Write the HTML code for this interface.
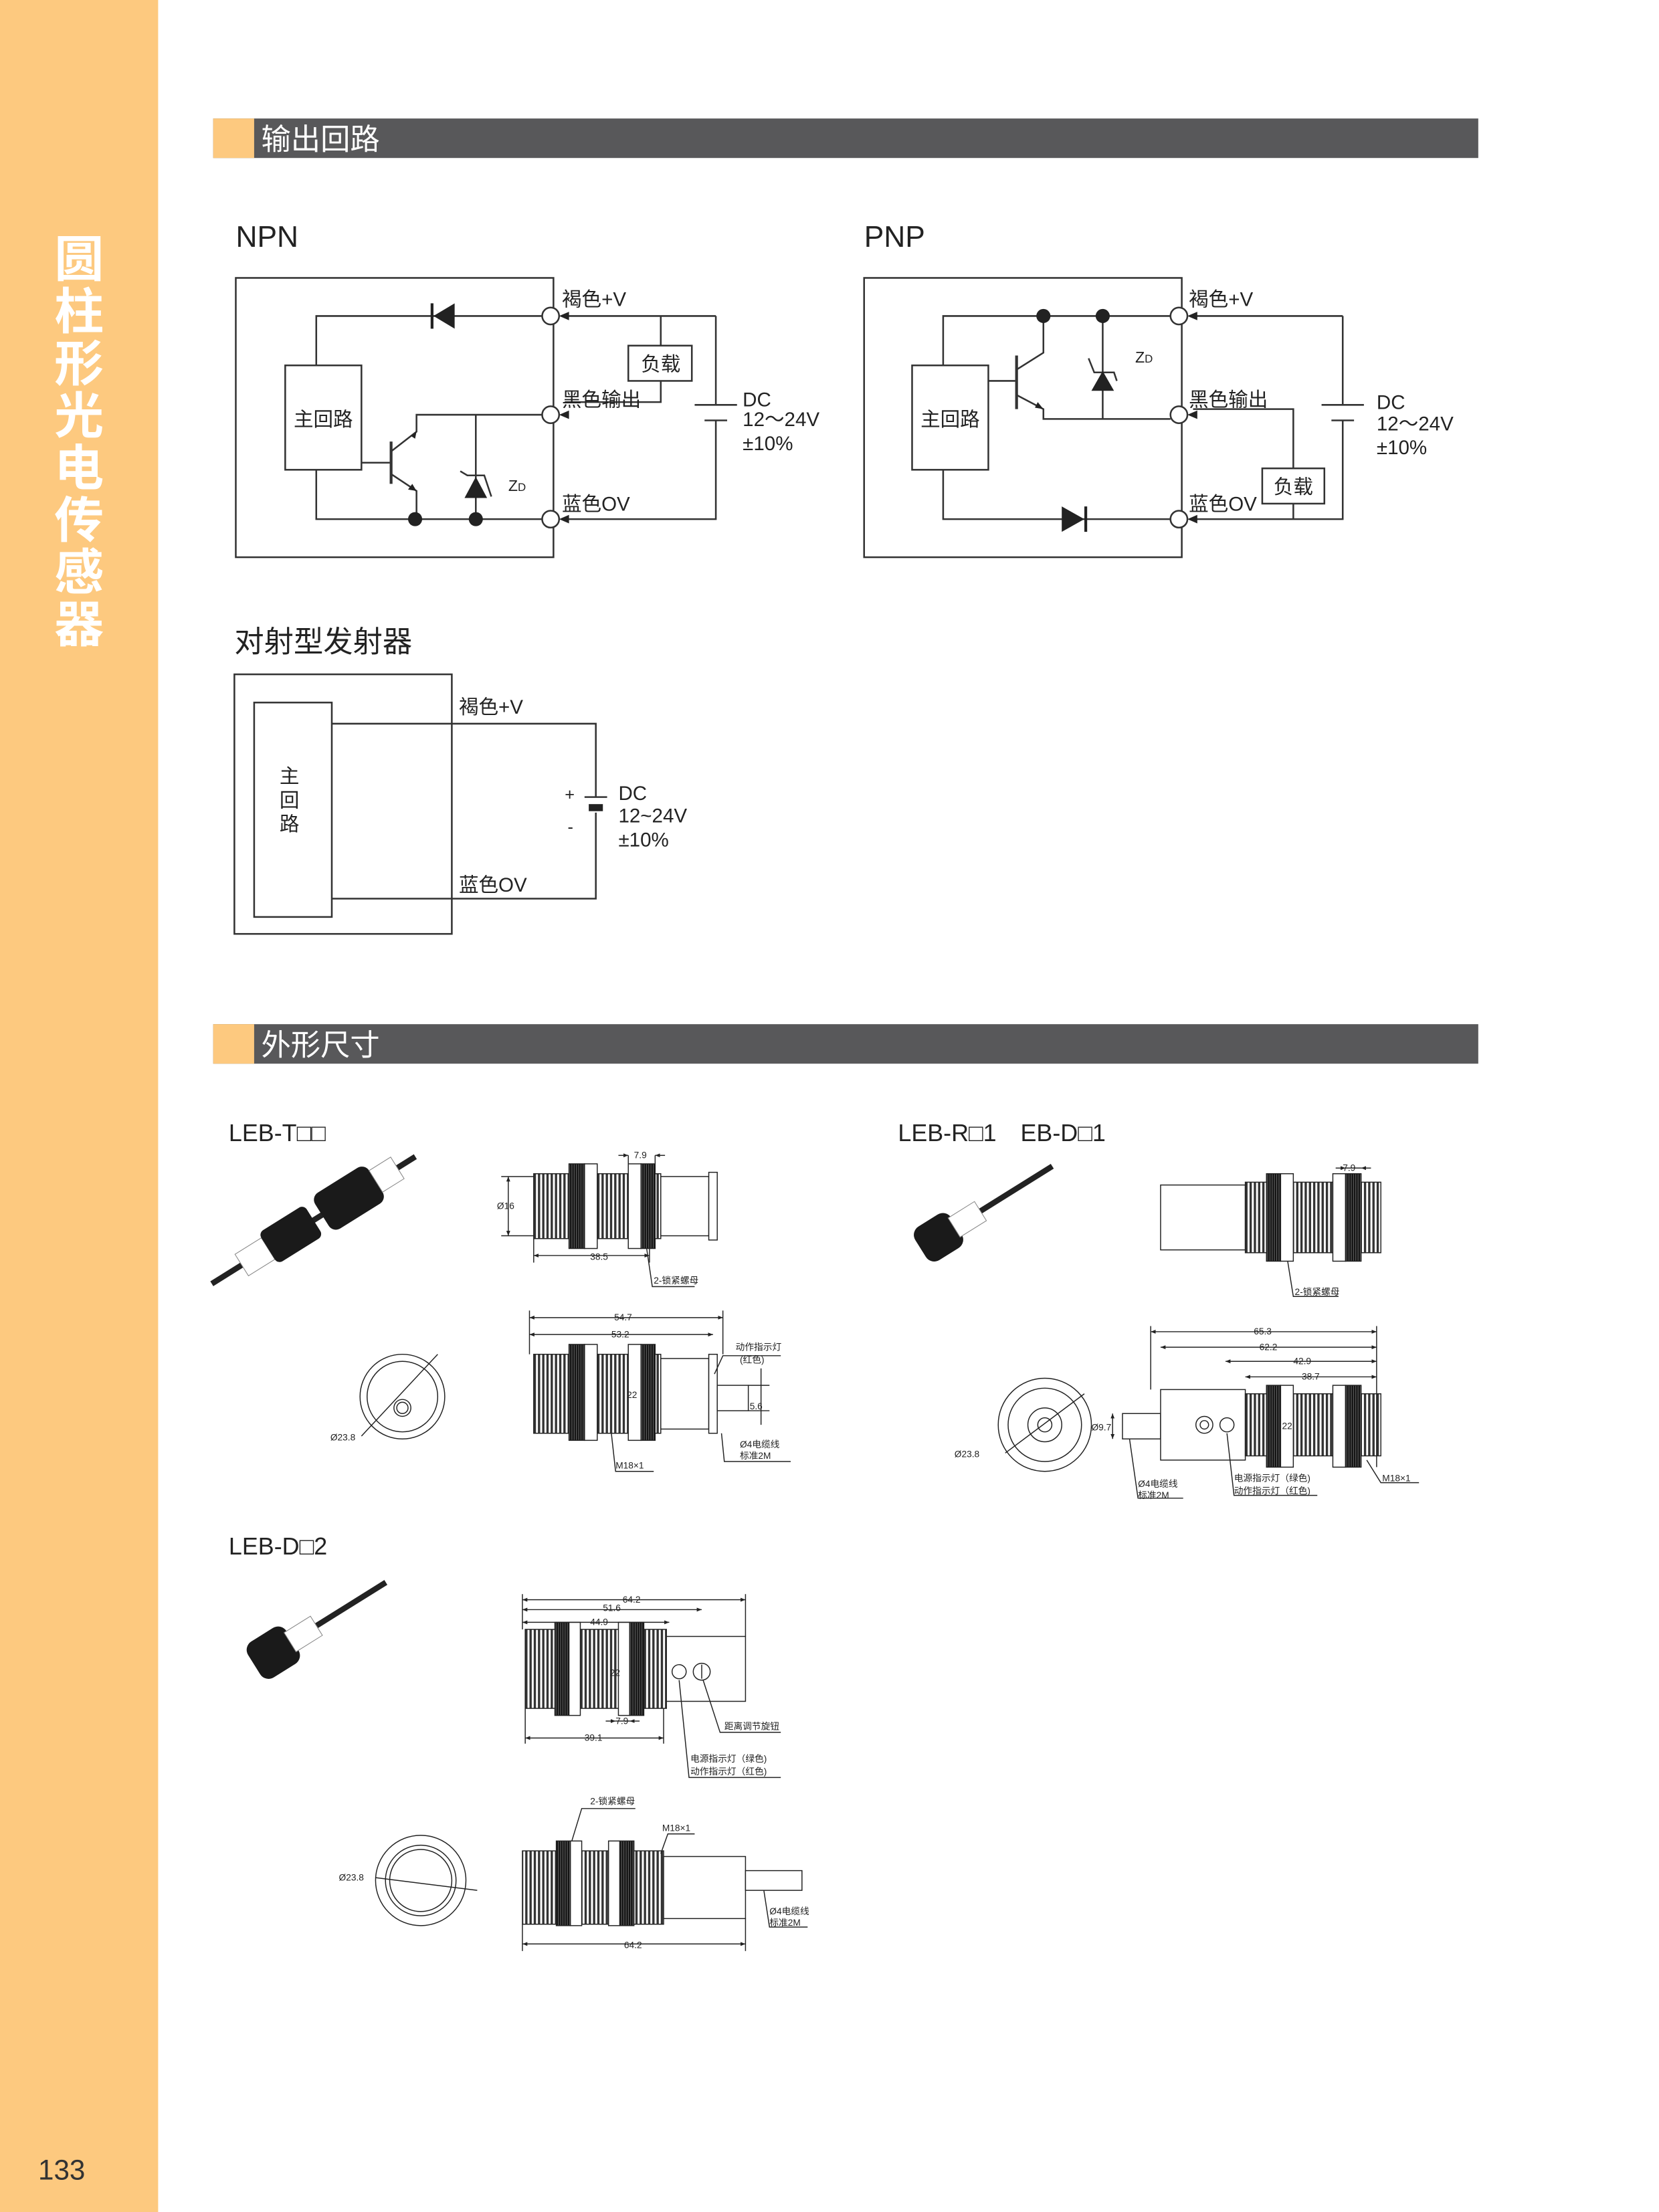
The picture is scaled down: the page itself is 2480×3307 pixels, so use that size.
<!DOCTYPE html>
<html><head><meta charset="utf-8"><style>
html,body{margin:0;padding:0;background:#fff}
svg{display:block}
text{font-family:"Liberation Sans","Noto Sans CJK SC",sans-serif}
</style></head><body>
<svg width="2480" height="3307" viewBox="0 0 1175 1568" preserveAspectRatio="none" xmlns="http://www.w3.org/2000/svg">
<defs>
<pattern id="th" width="3" height="20" patternUnits="userSpaceOnUse"><rect width="3" height="20" fill="#fff"/><rect x="0" width="1.6" height="20" fill="#333"/></pattern>
<pattern id="nt" width="1.6" height="20" patternUnits="userSpaceOnUse"><rect width="1.6" height="20" fill="#111"/><rect x="0" width="0.5" height="20" fill="#666"/></pattern>
<marker id="ar" viewBox="0 0 10 10" refX="10" refY="5" markerWidth="5" markerHeight="5" orient="auto-start-reverse"><path d="M0,1L10,5L0,9z" fill="#222"/></marker>
</defs>
<!-- sidebar -->
<rect x="0" y="0" width="112" height="1568" fill="#fdc97f"/>
<g fill="#fff" font-size="35" font-weight="bold" text-anchor="middle">
<text x="56" y="196">圆</text><text x="56" y="233">柱</text><text x="56" y="270">形</text><text x="56" y="307">光</text><text x="56" y="344">电</text><text x="56" y="381">传</text><text x="56" y="418">感</text><text x="56" y="455">器</text>
</g>
<text x="27" y="1545" font-size="20" fill="#333">133</text>
<!-- headers -->
<rect x="151" y="84" width="896" height="28" fill="#58585a"/><rect x="151" y="84" width="29" height="28" fill="#fdc97f"/>
<text x="185" y="106" font-size="21" fill="#fff">输出回路</text>
<rect x="151" y="726" width="896" height="28" fill="#58585a"/><rect x="151" y="726" width="29" height="28" fill="#fdc97f"/>
<text x="185" y="748" font-size="21" fill="#fff">外形尺寸</text>

<g stroke="#333" stroke-width="1.2" fill="none">
<!-- NPN -->
<rect x="167" y="197" width="225" height="198"/>
<polyline points="224,259 224,224 384,224"/>
<polyline points="224,333 224,368 384,368"/>
<rect x="202" y="259" width="54" height="74" fill="#fff"/>
<line x1="256" y1="328" x2="276" y2="328"/>
<line x1="277" y1="313" x2="277" y2="343" stroke-width="2"/>
<polyline points="277,320 295,306 295,294 384,294"/>
<polyline points="277,336 295,348 295,368"/>
<line x1="337" y1="294" x2="337" y2="368"/>
<polyline points="326,334 331,337 343,337 348,352"/>
<line x1="400" y1="224" x2="507" y2="224"/>
<polyline points="507,224 507,287"/><polyline points="507,298 507,368 400,368"/>
<line x1="492" y1="287" x2="522" y2="287"/><line x1="499" y1="298" x2="515" y2="298"/>
<polyline points="468,224 468,245"/>
<rect x="445" y="245" width="45" height="25"/>
<polyline points="468,270 468,285 400,285"/>
<!-- PNP -->
<rect x="612" y="197" width="225" height="198"/>
<polyline points="668,259 668,224 829,224"/>
<polyline points="668,333 668,368 829,368"/>
<rect x="646" y="259" width="54" height="74" fill="#fff"/>
<line x1="700" y1="270" x2="719" y2="270"/>
<line x1="720" y1="252" x2="720" y2="290" stroke-width="2"/>
<polyline points="720,262 739,250 739,224"/>
<polyline points="720,280 739,290 739,297 829,297"/>
<line x1="781" y1="224" x2="781" y2="297"/>
<polyline points="771,254 775,264 789,264 791,270"/>
<line x1="845" y1="224" x2="951" y2="224"/>
<polyline points="951,224 951,287"/><polyline points="951,298 951,368 845,368"/>
<line x1="936" y1="287" x2="966" y2="287"/><line x1="943" y1="298" x2="959" y2="298"/>
<polyline points="845,290 916,290 916,332"/>
<rect x="894" y="332" width="44" height="25"/>
<line x1="916" y1="357" x2="916" y2="368"/>
<!-- emitter -->
<rect x="166" y="478" width="154" height="184"/>
<rect x="180" y="498" width="55" height="152"/>
<polyline points="235,513 422,513 422,565"/>
<polyline points="422,576 422,637 235,637"/>
<line x1="414" y1="565" x2="430" y2="565"/>
</g>
<!-- circles & dots & diodes -->
<g stroke="#333" stroke-width="1.2" fill="#fff">
<circle cx="390" cy="224" r="6"/><circle cx="390" cy="294" r="6"/><circle cx="390" cy="368" r="6"/>
<circle cx="835" cy="224" r="6"/><circle cx="835" cy="294" r="6"/><circle cx="835" cy="368" r="6"/>
</g>
<g fill="#222">
<path d="M307,224 L322,215 L322,233z"/><rect x="305" y="215" width="2" height="18"/>
<path d="M337,338 L329,353 L345,353z"/>
<circle cx="294" cy="368" r="5"/><circle cx="337" cy="368" r="5"/>
<path d="M768,368 L752,359 L752,377z"/><rect x="768" y="359" width="2" height="18"/>
<path d="M781,263 L773,277 L789,277z"/>
<circle cx="739" cy="224" r="5"/><circle cx="781" cy="224" r="5"/>
<path d="M291,309 l4,-3 l-1,5z"/><path d="M295,348 l-6,-1 l3,-4z"/>
<path d="M739,290 l-6,-1 l2,-4z"/>
<path d="M396,224 l7,-3 v6z"/><path d="M396,294 l7,-3 v6z"/><path d="M396,368 l7,-3 v6z"/>
<path d="M841,224 l7,-3 v6z"/><path d="M841,294 l7,-3 v6z"/><path d="M841,368 l7,-3 v6z"/>
<rect x="417" y="570" width="10" height="5"/>
</g>
<g fill="#222" font-size="14">
<text x="167" y="175" font-size="21">NPN</text>
<text x="612" y="175" font-size="21">PNP</text>
<text x="208" y="302">主回路</text><text x="652" y="302">主回路</text>
<text x="398" y="217">褐色+V</text><text x="398" y="288">黑色输出</text><text x="398" y="362">蓝色OV</text>
<text x="842" y="217">褐色+V</text><text x="842" y="288">黑色输出</text><text x="842" y="362">蓝色OV</text>
<text x="454" y="263">负载</text><text x="902" y="350">负载</text>
<text x="526" y="288">DC</text><text x="526" y="302">12～24V</text><text x="526" y="319">±10%</text>
<text x="975" y="290">DC</text><text x="975" y="305">12～24V</text><text x="975" y="322">±10%</text>
<text x="360" y="348" font-size="11">Z<tspan font-size="8">D</tspan></text>
<text x="804" y="257" font-size="11">Z<tspan font-size="8">D</tspan></text>
<text x="166" y="462" font-size="21">对射型发射器</text>
<text x="198" y="555">主</text><text x="198" y="572">回</text><text x="198" y="589">路</text>
<text x="325" y="506">褐色+V</text><text x="325" y="632">蓝色OV</text>
<text x="400" y="567" font-size="12">+</text><text x="402" y="590" font-size="12">-</text>
<text x="438" y="567">DC</text><text x="438" y="583">12~24V</text><text x="438" y="600">±10%</text>
<text x="162" y="809" font-size="17">LEB-T□□</text>
<text x="636" y="809" font-size="17">LEB-R□1　EB-D□1</text>
<text x="162" y="1102" font-size="17">LEB-D□2</text>
</g>

<!-- product photos (simplified) -->
<g>
<g transform="translate(150,910) rotate(-32)">
<rect x="0" y="-2" width="170" height="4" fill="#222"/>
<rect x="25" y="-9" width="22" height="18" fill="#fff" stroke="#888" stroke-width="0.5"/>
<rect x="47" y="-13" width="38" height="26" rx="4" fill="#1a1a1a"/>
<rect x="92" y="-15" width="45" height="30" rx="6" fill="#1a1a1a"/>
<rect x="137" y="-9" width="18" height="18" fill="#fff" stroke="#888" stroke-width="0.5"/>
</g>
<g transform="translate(652,885) rotate(-32)">
<rect x="10" y="-2" width="100" height="4" fill="#222"/>
<rect x="0" y="-14" width="30" height="28" rx="7" fill="#1a1a1a"/>
<rect x="28" y="-8" width="22" height="16" fill="#fff" stroke="#888" stroke-width="0.5"/>
</g>
<g transform="translate(180,1180) rotate(-32)">
<rect x="10" y="-2" width="100" height="4" fill="#222"/>
<rect x="0" y="-15" width="32" height="30" rx="7" fill="#1a1a1a"/>
<rect x="30" y="-8" width="22" height="16" fill="#fff" stroke="#888" stroke-width="0.5"/>
</g>
</g>

<g stroke="#222" stroke-width="0.7" fill="none">
<!-- LEB-T top -->
<rect x="378" y="832" width="90" height="46" fill="url(#th)"/>
<rect x="468" y="834" width="34" height="42" fill="#fff"/>
<rect x="502" y="831" width="6" height="48" fill="#fff"/>
<rect x="403" y="825" width="11" height="60" fill="url(#nt)"/><rect x="414" y="825" width="9" height="60" fill="#fff"/>
<rect x="445" y="825" width="9" height="60" fill="#fff"/><rect x="454" y="825" width="10" height="60" fill="url(#nt)"/>
<line x1="445" y1="819" x2="445" y2="825"/><line x1="464" y1="819" x2="464" y2="825"/>
<line x1="438" y1="819" x2="445" y2="819" marker-end="url(#ar)"/><line x1="471" y1="819" x2="464" y2="819" marker-end="url(#ar)"/>
<line x1="360" y1="834" x2="360" y2="876" marker-start="url(#ar)" marker-end="url(#ar)"/>
<line x1="355" y1="834" x2="378" y2="834"/><line x1="355" y1="876" x2="378" y2="876"/>
<line x1="378" y1="878" x2="378" y2="895"/><line x1="460" y1="878" x2="460" y2="895"/>
<line x1="378" y1="890" x2="460" y2="890" marker-start="url(#ar)" marker-end="url(#ar)"/>
<polyline points="458,885 462,912 492,912"/>
<!-- LEB-T end view -->
<circle cx="285" cy="990" r="30"/><circle cx="285" cy="990" r="25"/><circle cx="285" cy="998" r="6"/><circle cx="285" cy="998" r="4"/>
<line x1="256" y1="1018" x2="310" y2="960"/>
<!-- LEB-T bottom -->
<rect x="378" y="960" width="90" height="56" fill="url(#th)"/>
<rect x="468" y="963" width="34" height="50" fill="#fff"/>
<rect x="502" y="960" width="6" height="56" fill="#fff"/>
<rect x="508" y="982" width="22" height="18" fill="#fff"/>
<rect x="403" y="953" width="11" height="68" fill="url(#nt)"/><rect x="414" y="953" width="9" height="68" fill="#fff"/>
<rect x="445" y="953" width="9" height="68" fill="#fff"/><rect x="454" y="953" width="10" height="68" fill="url(#nt)"/>
<line x1="375" y1="929" x2="375" y2="960"/><line x1="512" y1="929" x2="512" y2="960"/>
<line x1="375" y1="934" x2="512" y2="934" marker-start="url(#ar)" marker-end="url(#ar)"/>
<line x1="375" y1="946" x2="505" y2="946" marker-start="url(#ar)" marker-end="url(#ar)"/>
<polyline points="506,974 512,961 553,961"/>
<polyline points="511,1016 513,1036 560,1036"/>
<polyline points="433,1016 436,1043 463,1043"/>
<line x1="530" y1="982" x2="545" y2="982"/><line x1="530" y1="1000" x2="545" y2="1000"/>
<line x1="539" y1="970" x2="539" y2="1010"/>
<!-- LEB-R top -->
<rect x="822" y="840" width="60" height="46" fill="#fff"/>
<rect x="882" y="838" width="96" height="50" fill="url(#th)"/>
<rect x="897" y="832" width="10" height="62" fill="url(#nt)"/><rect x="907" y="832" width="9" height="62" fill="#fff"/>
<rect x="944" y="832" width="9" height="62" fill="#fff"/><rect x="953" y="832" width="11" height="62" fill="url(#nt)"/>
<line x1="953" y1="828" x2="964" y2="828"/><line x1="946" y1="828" x2="953" y2="828" marker-end="url(#ar)"/><line x1="971" y1="828" x2="964" y2="828" marker-end="url(#ar)"/>
<polyline points="912,894 916,919 948,919"/>
<!-- LEB-R end view -->
<circle cx="740" cy="1010" r="33"/><circle cx="740" cy="1010" r="26"/><circle cx="740" cy="1010" r="12"/><circle cx="740" cy="1010" r="5"/>
<line x1="712" y1="1030" x2="768" y2="988"/>
<!-- LEB-R bottom -->
<rect x="795" y="1002" width="27" height="18" fill="#fff"/>
<rect x="822" y="985" width="60" height="50" fill="#fff"/>
<rect x="882" y="988" width="96" height="44" fill="url(#th)"/>
<circle cx="853" cy="1010" r="6"/><circle cx="853" cy="1010" r="3"/><circle cx="869" cy="1010" r="5"/>
<rect x="897" y="982" width="10" height="58" fill="url(#nt)"/><rect x="907" y="982" width="9" height="58" fill="#fff"/>
<rect x="944" y="982" width="9" height="58" fill="#fff"/><rect x="953" y="982" width="11" height="58" fill="url(#nt)"/>
<line x1="815" y1="944" x2="975" y2="944" marker-start="url(#ar)" marker-end="url(#ar)"/>
<line x1="822" y1="955" x2="975" y2="955" marker-start="url(#ar)" marker-end="url(#ar)"/>
<line x1="868" y1="965" x2="975" y2="965" marker-start="url(#ar)" marker-end="url(#ar)"/>
<line x1="882" y1="976" x2="975" y2="976" marker-start="url(#ar)" marker-end="url(#ar)"/>
<line x1="815" y1="940" x2="815" y2="985"/><line x1="975" y1="940" x2="975" y2="1040"/>
<line x1="788" y1="1002" x2="788" y2="1020" marker-start="url(#ar)" marker-end="url(#ar)"/>
<polyline points="800,1020 806,1062 838,1062"/>
<polyline points="869,1016 874,1060 933,1060"/>
<polyline points="968,1035 978,1051 1005,1051"/>
<!-- LEB-D2 top -->
<rect x="372" y="1155" width="100" height="56" fill="url(#th)"/>
<rect x="472" y="1160" width="56" height="46" fill="#fff"/>
<rect x="393" y="1150" width="10" height="66" fill="url(#nt)"/><rect x="403" y="1150" width="8" height="66" fill="#fff"/>
<rect x="438" y="1150" width="8" height="66" fill="#fff"/><rect x="446" y="1150" width="10" height="66" fill="url(#nt)"/>
<circle cx="481" cy="1185" r="5"/><circle cx="497" cy="1185" r="6"/><line x1="497" y1="1180" x2="497" y2="1190"/>
<line x1="370" y1="1130" x2="370" y2="1155"/><line x1="528" y1="1130" x2="528" y2="1160"/>
<line x1="370" y1="1134" x2="528" y2="1134" marker-start="url(#ar)" marker-end="url(#ar)"/>
<line x1="370" y1="1141" x2="497" y2="1141" marker-start="url(#ar)" marker-end="url(#ar)"/>
<line x1="370" y1="1150" x2="474" y2="1150" marker-start="url(#ar)" marker-end="url(#ar)"/>
<line x1="436" y1="1220" x2="446" y2="1220"/><line x1="429" y1="1220" x2="436" y2="1220" marker-end="url(#ar)"/><line x1="453" y1="1220" x2="446" y2="1220" marker-end="url(#ar)"/>
<line x1="372" y1="1211" x2="372" y2="1236"/><line x1="470" y1="1211" x2="470" y2="1236"/>
<line x1="372" y1="1232" x2="470" y2="1232" marker-start="url(#ar)" marker-end="url(#ar)"/>
<polyline points="498,1191 510,1228 553,1228"/>
<polyline points="481,1191 488,1260 553,1260"/>
<!-- LEB-D2 bottom -->
<circle cx="298" cy="1333" r="32"/><circle cx="298" cy="1333" r="25"/><circle cx="298" cy="1333" r="22"/>
<line x1="266" y1="1331" x2="338" y2="1340"/>
<rect x="370" y="1312" width="100" height="52" fill="url(#th)"/>
<rect x="470" y="1316" width="58" height="44" fill="#fff"/>
<rect x="528" y="1326" width="40" height="14" fill="#fff"/>
<rect x="394" y="1305" width="10" height="60" fill="url(#nt)"/><rect x="404" y="1305" width="8" height="60" fill="#fff"/>
<rect x="431" y="1305" width="8" height="60" fill="#fff"/><rect x="439" y="1305" width="10" height="60" fill="url(#nt)"/>
<polyline points="405,1305 412,1282 450,1282"/>
<polyline points="468,1314 473,1300 492,1300"/>
<line x1="370" y1="1364" x2="370" y2="1383"/><line x1="528" y1="1360" x2="528" y2="1383"/>
<line x1="370" y1="1378" x2="528" y2="1378" marker-start="url(#ar)" marker-end="url(#ar)"/>
<polyline points="541,1340 545,1366 572,1366"/>
</g>
<g fill="#222" font-size="6.5">
<text x="449" y="821">7.9</text><text x="352" y="857">Ø16</text><text x="418" y="893">38.5</text><text x="463" y="910">2-锁紧螺母</text>
<text x="234" y="1021">Ø23.8</text>
<text x="435" y="936">54.7</text><text x="433" y="948">53.2</text><text x="521" y="957">动作指示灯</text><text x="524" y="966">(红色)</text>
<text x="444" y="991">22</text><text x="531" y="999">5.6</text><text x="524" y="1026">Ø4电缆线</text><text x="524" y="1034">标准2M</text><text x="436" y="1041">M18×1</text>
<text x="951" y="830">7.9</text><text x="917" y="918">2-锁紧螺母</text>
<text x="888" y="946">65.3</text><text x="892" y="957">62.2</text><text x="916" y="967">42.9</text><text x="922" y="978">38.7</text>
<text x="676" y="1033">Ø23.8</text><text x="773" y="1014">Ø9.7</text><text x="908" y="1013">22</text>
<text x="806" y="1054">Ø4电缆线</text><text x="806" y="1062">标准2M</text>
<text x="874" y="1050">电源指示灯（绿色)</text><text x="874" y="1059">动作指示灯（红色)</text><text x="979" y="1050">M18×1</text>
<text x="441" y="1136">64.2</text><text x="427" y="1142">51.6</text><text x="418" y="1152">44.9</text><text x="432" y="1188">22</text>
<text x="436" y="1222">7.9</text><text x="414" y="1234">39.1</text><text x="513" y="1226">距离调节旋钮</text>
<text x="489" y="1249">电源指示灯（绿色)</text><text x="489" y="1258">动作指示灯（红色)</text>
<text x="418" y="1279">2-锁紧螺母</text><text x="469" y="1298">M18×1</text><text x="240" y="1333">Ø23.8</text>
<text x="545" y="1357">Ø4电缆线</text><text x="545" y="1365">标准2M</text><text x="442" y="1381">64.2</text>
</g>
</svg>
</body></html>
